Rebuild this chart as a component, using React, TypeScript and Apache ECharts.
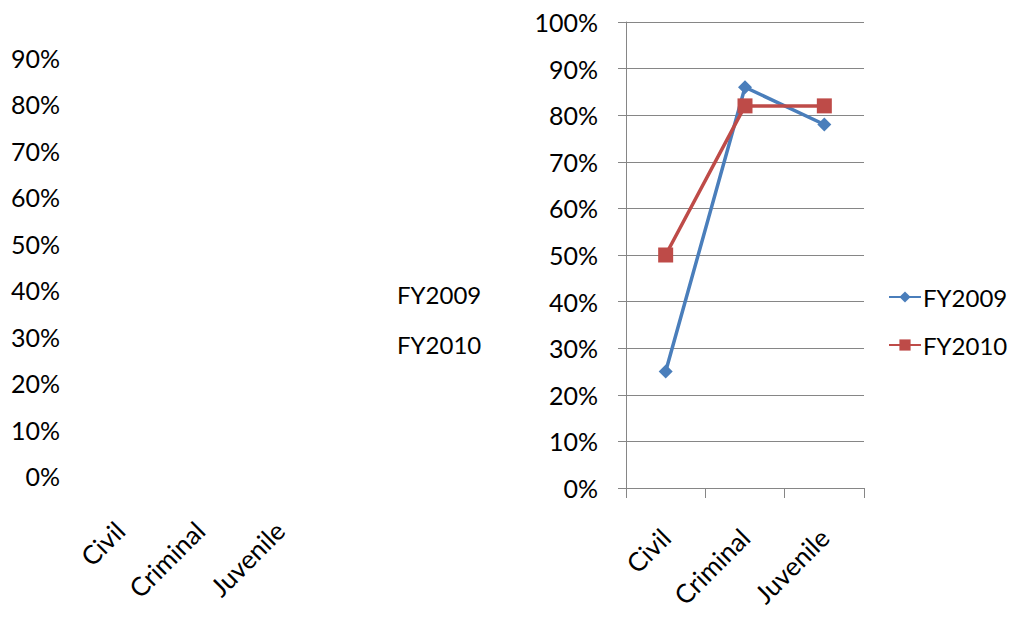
import React, { useEffect, useRef } from "react";
import * as echarts from "echarts";

const categories = ["Civil", "Criminal", "Juvenile"];
const fy2009 = [0.25, 0.86, 0.78];
const fy2010 = [0.5, 0.82, 0.82];
const seriesNames = ["FY2009", "FY2010"];

const FONT = "Lato, 'Open Sans', sans-serif";
const pct = (v: number) => Math.round(v * 100) + "%";

export default function App() {
  const ref = useRef<HTMLDivElement>(null);
  useEffect(() => {
    if (!ref.current) return;
    const chart = echarts.init(ref.current, undefined, { renderer: "svg" });
    const gray = "#868686";
    chart.setOption({
      animation: false,
      backgroundColor: "#fff",
      textStyle: { fontFamily: FONT },
      grid: [
        { left: 80, top: 58, width: 240, height: 418 },
        { left: 626, top: 22, width: 238, height: 466 },
      ],
      xAxis: [
        {
          gridIndex: 0,
          type: "category",
          data: categories,
          axisLine: { show: false },
          axisTick: { show: false },
          axisLabel: { rotate: 45, margin: 50, fontSize: 26, color: "#000", fontFamily: FONT },
        },
        {
          gridIndex: 1,
          type: "category",
          data: categories,
          axisLine: { show: true, lineStyle: { color: gray, width: 1 } },
          axisTick: { show: true, length: 10, lineStyle: { color: gray } },
          axisLabel: { rotate: 45, margin: 45, fontSize: 26, color: "#000", fontFamily: FONT },
        },
      ],
      yAxis: [
        {
          gridIndex: 0,
          type: "value",
          min: 0,
          max: 0.9,
          interval: 0.1,
          axisLine: { show: false },
          axisTick: { show: false },
          splitLine: { show: false },
          axisLabel: { formatter: pct, margin: 20, fontSize: 25, color: "#000", fontFamily: FONT },
        },
        {
          gridIndex: 1,
          type: "value",
          min: 0,
          max: 1,
          interval: 0.1,
          axisLine: { show: true, lineStyle: { color: gray, width: 1 } },
          axisTick: { show: true, length: 8, lineStyle: { color: gray } },
          splitLine: { show: true, lineStyle: { color: gray, width: 1 } },
          axisLabel: { formatter: pct, margin: 28, fontSize: 25, color: "#000", fontFamily: FONT },
        },
      ],
      legend: {
        orient: "vertical",
        left: 883,
        top: 280,
        itemGap: 24,
        itemWidth: 32,
        itemHeight: 14,
        data: seriesNames,
        textStyle: { fontSize: 24, color: "#000", fontFamily: FONT, padding: [0, 0, 0, -3] },
      },
      graphic: [
        { type: "text", left: 397, top: 282, style: { text: seriesNames[0], fontSize: 24, fill: "#000", fontFamily: FONT } },
        { type: "text", left: 397, top: 332, style: { text: seriesNames[1], fontSize: 24, fill: "#000", fontFamily: FONT } },
      ],
      series: [
        {
          name: seriesNames[0],
          type: "line",
          xAxisIndex: 1,
          yAxisIndex: 1,
          data: fy2009,
          symbol: "diamond",
          symbolSize: 14,
          color: "#4A7EBB",
          lineStyle: { width: 3.5, color: "#4A7EBB" },
          itemStyle: { color: "#4A7EBB" },
        },
        {
          name: seriesNames[1],
          type: "line",
          xAxisIndex: 1,
          yAxisIndex: 1,
          data: fy2010,
          symbol: "rect",
          symbolSize: 15,
          color: "#BE4B48",
          lineStyle: { width: 3.5, color: "#BE4B48" },
          itemStyle: { color: "#BE4B48" },
        },
      ],
    });
    return () => chart.dispose();
  }, []);
  return <div ref={ref} style={{ width: 1013, height: 617, position: "absolute", left: 0, top: 0 }} />;
}
